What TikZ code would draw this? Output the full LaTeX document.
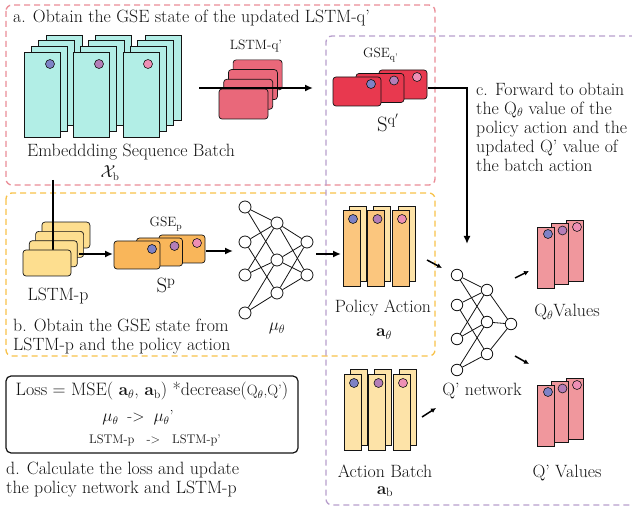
\documentclass[tikz,border=0pt]{standalone}
\usepackage{amsmath}
\usetikzlibrary{arrows.meta}

\definecolor{framepink}{RGB}{234,140,150}
\definecolor{frameyellow}{RGB}{247,194,74}
\definecolor{framepurple}{RGB}{183,158,204}
\definecolor{embcyan}{RGB}{178,238,230}
\definecolor{lstmqred}{RGB}{233,104,122}
\definecolor{gseqred}{RGB}{232,57,79}
\definecolor{lstmpyellow}{RGB}{253,222,143}
\definecolor{gsepamber}{RGB}{249,182,90}
\definecolor{actfront}{RGB}{251,198,126}
\definecolor{actback}{RGB}{253,227,168}
\definecolor{qpink}{RGB}{240,151,157}
\definecolor{dotblue}{RGB}{126,130,198}
\definecolor{dotmauve}{RGB}{180,126,184}
\definecolor{dotpink}{RGB}{238,143,181}
\definecolor{inkgray}{RGB}{20,20,20}

\tikzset{
  framebox/.style={line width=1.3pt, dash pattern=on 6pt off 4pt, rounded corners=6pt},
  card/.style={draw=inkgray, line width=0.7pt},
  softcard/.style={card, rounded corners=3pt},
  dot/.style={draw=inkgray, line width=0.6pt},
  neuron/.style={circle, draw=inkgray, fill=white, line width=0.8pt, inner sep=0pt, minimum size=12pt},
  link/.style={draw=inkgray, line width=0.8pt},
  flow/.style={line width=1.8pt, -{Latex[length=8pt,width=7pt]}},
  nudge/.style={line width=1.5pt, -{Latex[length=5pt,width=5pt]}},
  bodytext/.style={font=\fontsize{17.8}{19}\selectfont, align=left, inner sep=0pt, text=inkgray},
  tag/.style={font=\fontsize{17.8}{20}\selectfont, inner sep=0pt, text=inkgray},
  smalltag/.style={font=\fontsize{13.5}{16}\selectfont, inner sep=0pt, text=inkgray},
  bigsym/.style={font=\fontsize{20}{24}\selectfont, inner sep=0pt, text=inkgray},
  losstext/.style={font=\fontsize{18}{20}\selectfont, inner sep=0pt, text=inkgray}
}

\begin{document}
\begin{tikzpicture}[x=1pt,y=-1pt]
\useasboundingbox (0,0) rectangle (632,510);
	% frames of the four steps
	\draw[framebox, draw=framepink] (6,5) rectangle (435,185);
	\draw[framebox, draw=frameyellow] (6,193) rectangle (435,356);
	\draw[framebox, draw=framepurple] (645,36) -- (326,36) -- (326,505) -- (645,505);
	%
	% a. embedding batch through LSTM-q'
	\node[bodytext, anchor=base west] (titlea) at (13,23) {a. Obtain the GSE state of the updated LSTM-q'};
	\foreach \g/\dc in {0/dotblue,1/dotmauve,2/dotpink}{
		\foreach \k in {3,2,1,0}
			\draw[card, fill=embcyan] ({24+49.5*\g+7.3*\k},{52-5.7*\k}) rectangle ++(36,85);
		\draw[dot, fill=\dc] ({50+49*\g},64) circle (4.5);
	}
	\node[tag, anchor=base] (embtxt) at (131,157) {Embeddding Sequence Batch};
	\node[tag, font=\fontsize{16}{18}\selectfont, anchor=base] (xbtxt) at (110,178) {$\mathcal{X}_{\mathrm{b}}$};
	%
	\node[smalltag, anchor=base] (lstmqtxt) at (256,50) {LSTM-q'};
	\foreach \k in {3,2,1,0}
		\draw[softcard, fill=lstmqred] ({219+4.7*\k},{89-9.7*\k}) rectangle ++(49,30);
	\coordinate (lstmq-in) at (199,88);
	\coordinate (lstmq-out) at (313,88);
	\draw[flow] (lstmq-in) -- (lstmq-out);
	%
	\node[smalltag, anchor=base west] (gseqtxt) at (363,58) {GSE\textsubscript{q'}};
	\foreach \k/\dc in {2/dotpink,1/dotmauve,0/dotblue}{
		\draw[softcard, fill=gseqred] ({333+23*\k},{77-3.5*\k}) rectangle ++(48,29);
		\draw[dot, fill=\dc] ({371+23*\k},{84-3.5*\k}) circle (4.5);
	}
	\node[bigsym, anchor=base] (sqtxt) at (388,132) {$\mathrm{S}^{\mathrm{q}'}$};
	%
	% c. forward pass into the Q' network
	\coordinate (gseq-out) at (428,88);
	\coordinate (qnet-top) at (467,244);
	\draw[flow] (gseq-out) -| (qnet-top);
	\node[bodytext, anchor=north west] (textc) at (476,82.6) {c. Forward to obtain\\the Q$_\theta$ value of the\\policy action and the\\updated Q' value of\\the batch action};
	%
	% b. LSTM-p and policy network
	\foreach \k in {3,2,1}
		\draw[softcard, fill=lstmpyellow] ({23+6.3*\k},{250-9.3*\k}) rectangle ++(48,26);
	\coordinate (emb-out) at (53,180);
	\coordinate (lstmp-top) at (53,252);
	\draw[line width=1.8pt] (emb-out) -- (lstmp-top);
	\draw[softcard, fill=lstmpyellow] (23,250) rectangle ++(48,26);
	\node[tag, anchor=base] (lstmptxt) at (58,301) {LSTM-p};
	\coordinate (lstmp-out) at (79,254);
	\coordinate (gsep-in) at (113,254);
	\draw[flow] (lstmp-out) -- (gsep-in);
	%
	\node[smalltag, anchor=base] (gseptxt) at (166,227) {GSE\textsubscript{p}};
	\foreach \k/\dc in {2/dotpink,1/dotmauve,0/dotblue}{
		\draw[softcard, fill=gsepamber] ({114+22.5*\k},{241-3*\k}) rectangle ++(46,28);
		\draw[dot, fill=\dc] ({152+22.5*\k},{249-3*\k}) circle (4.5);
	}
	\node[bigsym, anchor=base] (sptxt) at (166,293) {$\mathrm{S}^{\mathrm{p}}$};
	\coordinate (gsep-out) at (206,251);
	\coordinate (mu-in) at (233,251);
	\draw[flow] (gsep-out) -- (mu-in);
	%
	\foreach \i/\y in {1/207,2/242,3/275,4/313}
		\node[neuron] (mu-a\i) at (245,\y) {};
	\foreach \i/\y in {1/223,2/260,3/293}
		\node[neuron] (mu-b\i) at (277,\y) {};
	\foreach \i/\y in {1/242,2/275}
		\node[neuron] (mu-c\i) at (307,\y) {};
	\foreach \s/\t in {a1/b1,a1/b2,a2/b1,a2/b3,a3/b1,a3/b2,a4/b2,a4/b3,b1/c1,b1/c2,b2/c1,b2/c2,b3/c1,b3/c2}
		\draw[link] (mu-\s) -- (mu-\t);
	\node[tag, anchor=base] (mutxt) at (277,331) {$\mu_\theta$};
	\coordinate (mu-out) at (316,254);
	\coordinate (pa-in) at (341,254);
	\draw[flow] (mu-out) -- (pa-in);
	\node[bodytext, anchor=north west] (textb) at (13,318.6) {b. Obtain the GSE state from\\LSTM-p and the policy action};
	%
	% actions, Q' network and Q values
	\foreach \g/\dc in {0/dotblue,1/dotmauve,2/dotpink}{
		\draw[card, fill=actback] ({349+24.5*\g},206) rectangle ++(17,75);
		\draw[card, fill=actfront] ({343+24.5*\g},210) rectangle ++(17,76);
		\draw[dot, fill=\dc] ({353+24.5*\g},219) circle (4.5);
	}
	\node[tag, anchor=base] (patxt) at (383,313) {Policy Action};
	\node[tag, anchor=base] (athtxt) at (384,337) {$\mathbf{a}_\theta$};
	%
	\foreach \g/\dc in {0/dotblue,1/dotmauve,2/dotpink}{
		\draw[card, fill=actback] ({350+24.5*\g},369) rectangle ++(17,76);
		\draw[card, fill=actback] ({344+24.5*\g},374) rectangle ++(17,76);
		\draw[dot, fill=\dc] ({354+24.5*\g},383) circle (4.5);
	}
	\node[tag, anchor=base] (abtxt) at (385,477) {Action Batch};
	\node[tag, anchor=base] (abvar) at (385,494) {$\mathbf{a}_{\mathrm{b}}$};
	%
	\foreach \i/\y in {1/275,2/305,3/339,4/370}
		\node[neuron, minimum size=11.5pt] (qn-a\i) at (457,\y) {};
	\foreach \i/\y in {1/290,2/322,3/354}
		\node[neuron, minimum size=11.5pt] (qn-b\i) at (487,\y) {};
	\node[neuron, minimum size=11.5pt] (qn-c1) at (511,324) {};
	\foreach \s/\t in {a1/b1,a1/b2,a2/b1,a2/b3,a3/b1,a3/b2,a4/b2,a4/b3,b1/c1,b2/c1,b3/c1}
		\draw[link] (qn-\s) -- (qn-\t);
	\node[tag, anchor=base] (qntxt) at (482,396) {Q' network};
	%
	\coordinate (pa-out) at (427,260);
	\coordinate (qn-in1) at (442,268);
	\draw[nudge] (pa-out) -- (qn-in1);
	\coordinate (ab-out) at (422,417);
	\coordinate (qn-in2) at (436,408);
	\draw[nudge] (ab-out) -- (qn-in2);
	\coordinate (qn-out1) at (515,278);
	\coordinate (qth-in) at (529,271);
	\draw[nudge] (qn-out1) -- (qth-in);
	\coordinate (qn-out2) at (515,356);
	\coordinate (qp-in) at (529,364);
	\draw[nudge] (qn-out2) -- (qp-in);
	%
	\foreach \k/\dc in {2/dotpink,1/dotmauve,0/dotblue}{
		\draw[card, fill=qpink] ({537+14.5*\k},{227-3.5*\k}) rectangle ++(17,61);
		\draw[dot, fill=\dc] ({548+14.5*\k},{234-3.5*\k}) circle (4.5);
	}
	\node[tag, anchor=base] (qthtxt) at (567,317) {Q$_\theta$Values};
	\foreach \k/\dc in {2/dotpink,1/dotmauve,0/dotblue}{
		\draw[card, fill=qpink] ({537+14.5*\k},{385-3.5*\k}) rectangle ++(17,61);
		\draw[dot, fill=\dc] ({548+14.5*\k},{392-3.5*\k}) circle (4.5);
	}
	\node[tag, anchor=base] (qptxt) at (567,477) {Q' Values};
	%
	% d. loss and update
	\draw[line width=1.2pt, rounded corners=5pt, draw=inkgray] (6,376) rectangle (298,453);
	\node[losstext, anchor=base] (lossline) at (152,396) {Loss = MSE( $\mathbf{a}_\theta$, $\mathbf{a}_{\mathrm{b}}$) *decrease({\fontsize{15}{17}\selectfont Q$_\theta$,Q'})};
	\node[losstext, font=\fontsize{16}{18}\selectfont, anchor=base] (muline) at (138,422) {$\mu_\theta$\hspace{9pt}->\hspace{9pt}$\mu_\theta$'};
	\node[losstext, font=\fontsize{12.5}{15}\selectfont, anchor=base] (lstmline) at (155,443) {LSTM-p\hspace{12pt}->\hspace{12pt}LSTM-p'};
	\node[bodytext, anchor=north west] (textd) at (6,461.6) {d. Calculate the loss and update\\the policy network and LSTM-p};
\end{tikzpicture}
\end{document}
